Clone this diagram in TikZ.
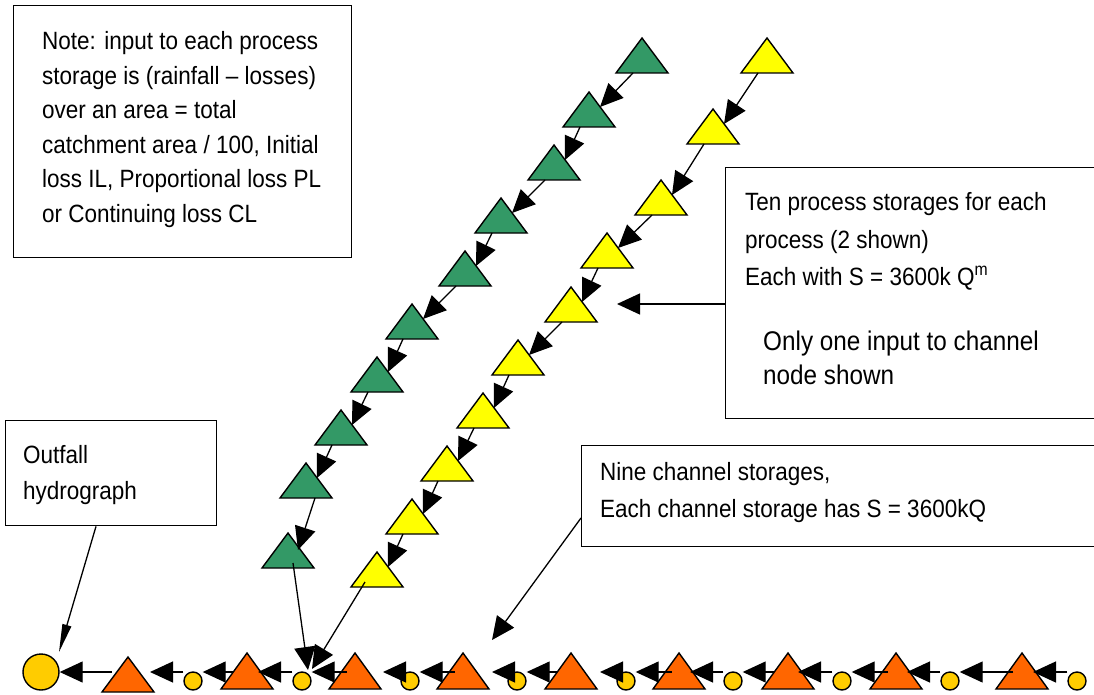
\documentclass[tikz,border=0pt]{standalone}
\usepackage{fontspec}
\setmainfont{Liberation Sans}[FakeStretch=0.9]
\usetikzlibrary{arrows.meta,calc}

\definecolor{procgreen}{RGB}{51,153,102}
\definecolor{procyellow}{RGB}{255,255,0}
\definecolor{chanorange}{RGB}{255,102,0}
\definecolor{nodegold}{RGB}{255,204,0}

\tikzset{
  box/.style={draw, line width=1.4pt, fill=white, inner sep=0pt, anchor=north west},
  lbl/.style={anchor=base west, inner sep=0pt, font=\fontsize{25}{30}\selectfont},
  biglbl/.style={anchor=base west, inner sep=0pt, font=\fontsize{27}{32}\selectfont},
  tri/.style={draw, line width=1.4pt, line join=miter},
  flow/.style={line width=1.3pt, -{Triangle[length=23pt,width=21pt]}},
  thinflow/.style={line width=1.3pt, -{Triangle[length=28pt,width=9pt]}},
  junction/.style={circle, draw, line width=1.4pt, fill=nodegold, inner sep=0pt, minimum size=18pt},
  outlet/.style={circle, draw, line width=1.4pt, fill=nodegold, inner sep=0pt, minimum size=36pt},
}

% storage triangle: name, apex x, apex y, fill colour, height
\newcommand\storagetri[5]{%
  \draw[tri, fill=#4] (#2,#3) -- ++(26,#5) -- ++(-52,0) -- cycle;
  \coordinate (#1) at (#2,#3);}

\begin{document}
\begin{tikzpicture}[x=1pt,y=-1pt]
\useasboundingbox (0,0) rectangle (1094,695);

% ---- explanatory boxes ----
\node[box, minimum width=338pt, minimum height=252pt] (notebox) at (13,5) {};
\node[lbl] (note1) at (42,50)    {Note: input to each process};
\node[lbl] (note2) at (42,84.5)  {storage is (rainfall – losses)};
\node[lbl] (note3) at (42,119)   {over an area = total};
\node[lbl] (note4) at (42,153.5) {catchment area / 100, Initial};
\node[lbl] (note5) at (42,188)   {loss IL, Proportional loss PL};
\node[lbl] (note6) at (42,222.5) {or Continuing loss CL};

\node[box, minimum width=371pt, minimum height=251pt] (tenbox) at (725,167) {};
\node[lbl] (ten1) at (745,211) {Ten process storages for each};
\node[lbl] (ten2) at (745,248) {process (2 shown)};
\node[lbl] (ten3) at (745,285) {Each with S = 3600k Q\textsuperscript{m}};
\node[biglbl] (only1) at (763,350) {Only one input to channel};
\node[biglbl] (only2) at (763,384) {node shown};

\node[box, minimum width=515pt, minimum height=101pt] (ninebox) at (581,445) {};
\node[lbl] (nine1) at (600,480) {Nine channel storages,};
\node[lbl] (nine2) at (600,517) {Each channel storage has S = 3600kQ};

\node[box, minimum width=211pt, minimum height=105pt] (outbox) at (5,420) {};
\node[lbl] (outf1) at (23,463) {Outfall};
\node[lbl] (outf2) at (23,499) {hydrograph};

% ---- process storages, first process (green) ----
\foreach \n/\x/\y in {1/642/38, 2/589/92, 3/554/145, 4/501/198, 5/465/251,
                      6/412/304, 7/377/357, 8/341/410, 9/306/463, 10/288/533}
  {\storagetri{g\n}{\x}{\y}{procgreen}{35}}

% ---- process storages, second process (yellow) ----
\foreach \n/\x/\y in {1/767/38, 2/713/109, 3/661/180, 4/607/233, 5/571/287,
                      6/518/340, 7/483/393, 8/447/446, 9/412/499, 10/377/552}
  {\storagetri{y\n}{\x}{\y}{procyellow}{35}}

\foreach \a/\b in {1/2,2/3,3/4,4/5,5/6,6/7,7/8,8/9}
  {\draw[flow] ($(g\a)+(-9,35)$) -- ($(g\b)+(11,15)$);}
\draw[flow] ($(g9)+(9,35)$) -- ($(g10)+(10,17)$);

\foreach \a/\b in {1/2,2/3,3/4,4/5,5/6,6/7,7/8,8/9,9/10}
  {\draw[flow] ($(y\a)+(-9,35)$) -- ($(y\b)+(11,15)$);}

% ---- channel storages and nodes ----
\node[outlet] (out) at (41,672) {};
\storagetri{t1a}{128}{657}{chanorange}{35}
\coordinate (t1) at (128,672);
\foreach \n/\x in {2/247, 3/355, 4/463, 5/571, 6/679, 7/788, 8/896, 9/1022}
  {\storagetri{t\n a}{\x}{653}{chanorange}{36}
   \coordinate (t\n) at (\x,672);}
\foreach \n/\x in {1/193, 2/302, 3/410, 4/517, 5/626, 6/733, 7/842, 8/950, 9/1077}
  {\node[junction] (c\n) at (\x,681) {};}

% flow along the channel
\draw[flow] ($(t1)+(-16,0)$) -- (out.east);
\draw[flow] ($(c1.west)+(0,-9)$) -- ($(t1)+(22,0)$);
\draw[flow] ($(t2)+(-14,0)$) -- ($(c1.east)+(0,-9)$);
\draw[flow] ($(c2.west)+(0,-9)$) -- ($(t2)+(11,0)$);
\draw[flow] ($(t3)+(-8,0)$) -- ($(c2.east)+(0,-9)$);
\draw[flow] ($(c3.west)+(0,-9)$) -- ($(t3)+(28,0)$);
\draw[flow] ($(t4)+(-8,0)$) -- ($(c3.east)+(0,-9)$);
\draw[flow] ($(c4.west)+(0,-9)$) -- ($(t4)+(29,0)$);
\draw[flow] ($(t5)+(-14,0)$) -- ($(c4.east)+(0,-9)$);
\draw[flow] ($(c5.west)+(0,-9)$) -- ($(t5)+(29,0)$);
\draw[flow] ($(t6)+(-7,0)$) -- ($(c5.east)+(0,-9)$);
\draw[flow] ($(c6.west)+(0,-9)$) -- ($(t6)+(11,0)$);
\draw[flow] ($(t7)+(-14,0)$) -- ($(c6.east)+(0,-9)$);
\draw[flow] ($(c7.west)+(0,-9)$) -- ($(t7)+(10,0)$);
\draw[flow] ($(t8)+(-8,0)$) -- ($(c7.east)+(0,-9)$);
\draw[flow] ($(c8.west)+(0,-9)$) -- ($(t8)+(11,0)$);
\draw[flow] ($(t9)+(-9,0)$) -- ($(c8.east)+(0,-9)$);
\draw[flow] ($(c9.west)+(0,-9)$) -- ($(t9)+(11,0)$);

% inputs from the last process storages into channel node 2
\draw[flow] ($(g10)+(5,30)$) -- ($(c2)+(6,-11)$);
\draw[flow] ($(y10)+(-12,30)$) -- ($(c2)+(10,-12)$);

% callout arrows
\coordinate (tenTip) at (617,304);
\draw[flow] (tenbox.west |- tenTip) -- (tenTip);
\coordinate (nineTip) at (492,640);
\draw[flow] ($(ninebox.north west)+(0,73)$) -- (nineTip);
\coordinate (outTip) at (59,652);
\draw[thinflow] ($(outbox.south west)+(91,0)$) -- (outTip);
\end{tikzpicture}
\end{document}
